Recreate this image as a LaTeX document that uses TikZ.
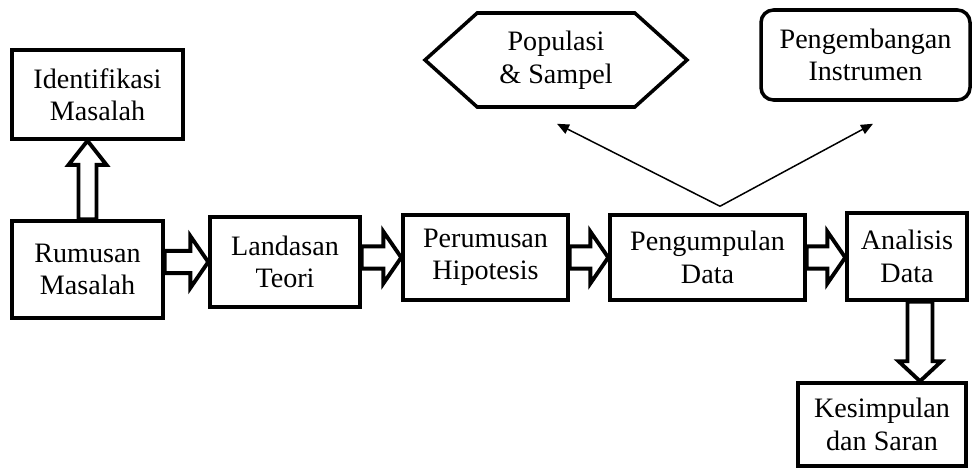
\documentclass[tikz,border=0pt]{standalone}
\usepackage{fontspec}
\setmainfont{Liberation Serif}
\usepackage{tikz}
\usetikzlibrary{arrows.meta,calc,shapes.symbols}
\tikzset{stagebox/.style={draw,line width=2pt,align=center,inner sep=2pt},
 hexbox/.style={stagebox,signal,signal to=east and west,signal pointer angle=84},
 roundbox/.style={stagebox,rounded corners=.25cm},
 thinarrow/.style={draw,line width=.85pt,-{Triangle[length=2.4mm,width=2mm]}},
 blockarrow/.style args={#1/#2/#3}{draw,line width=2.2pt,fill=white,line join=miter,
  to path={let \p1=($(\tikztotarget)-(\tikztostart)$),\n1={atan2(\y1,\x1)},\n2={veclen(\x1,\y1)} in
   [shift={(\tikztostart)},rotate=\n1] (0pt,-#1)--({\n2-#3},-#1)--({\n2-#3},-#2)--(\n2,0pt)
   --({\n2-#3},#2)--({\n2-#3},#1)--(0pt,#1)--cycle}}}

\begin{document}
\begin{tikzpicture}[every node/.style={font=\fontsize{16}{18.5}\selectfont}]
\useasboundingbox (0,0) rectangle (19.46,9.4);
% tahapan utama
\node[stagebox,minimum width=3.42cm,minimum height=1.78cm] (idm) at (1.95,7.51) {Identifikasi\\Masalah};
\node[stagebox,minimum width=3.02cm,minimum height=1.94cm] (rum) at (1.75,4.01) {Rumusan\\Masalah};
\node[stagebox,minimum width=3cm,minimum height=1.8cm] (lan) at (5.70,4.16) {Landasan\\Teori};
\node[stagebox,minimum width=3.3cm,minimum height=1.7cm] (per) at (9.71,4.25) {Perumusan\\Hipotesis};
\node[stagebox,minimum width=3.9cm,minimum height=1.7cm] (pen) at (14.15,4.25) {Pengumpulan\\Data};
\node[stagebox,minimum width=2.4cm,minimum height=1.74cm] (ana) at (18.14,4.27) {Analisis\\Data};
\node[stagebox,minimum width=3.36cm,minimum height=1.66cm] (kes) at (17.64,.91) {Kesimpulan\\dan Saran};
% cabang pengumpulan data
\node[hexbox,minimum width=5.24cm,minimum height=1.88cm] (pop) at (11.12,8.2) {Populasi\\\& Sampel};
\node[roundbox,minimum width=4.18cm,minimum height=1.8cm] (dev) at (17.31,8.3) {Pengembangan\\Instrumen};
\coordinate (split) at ($(pen.north)+(.25,.14)$);
\coordinate (popend) at ($(pop.south)+(.02,-.3)$);
\coordinate (devend) at ($(dev.south)+(.15,-.44)$);
\draw[thinarrow] (split)--(popend);
\draw[thinarrow] (split)--(devend);
% panah blok
\draw[blockarrow=5.1pt/10.8pt/13.7pt] (rum.north) to (rum.north |- idm.south);
\draw[blockarrow=6.3pt/14.8pt/10.2pt] (rum.east |- lan.west) to (lan.west);
\draw[blockarrow=6.3pt/14.8pt/10.2pt] (lan.east |- per.west) to (per.west);
\draw[blockarrow=6.3pt/14.8pt/10.2pt] (per.east) to (pen.west);
\draw[blockarrow=6.3pt/14.8pt/10.2pt] (pen.east) to (pen.east -| ana.west);
\coordinate (anaout) at ($(ana.south)+(.26,0)$);
\draw[blockarrow=7.1pt/12.2pt/11.4pt] (anaout) to (anaout |- kes.north);
\end{tikzpicture}
\end{document}
